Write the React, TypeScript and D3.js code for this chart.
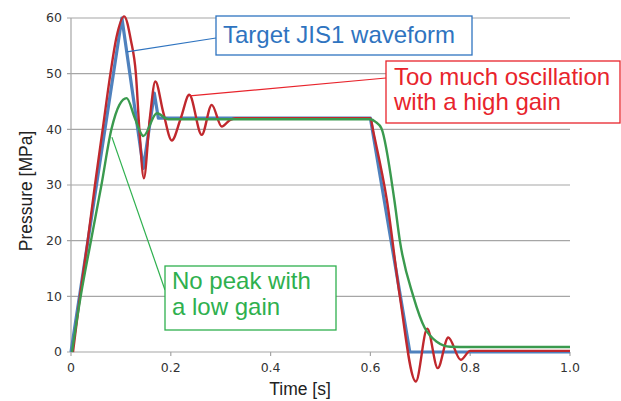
import React from 'react';
import * as d3 from 'd3';

// target JIS1 waveform
const blueT = [0, 0.102, 0.145, 0.167, 0.175, 0.6, 0.679, 1.0];
const blueP = [0, 60, 33, 46.5, 42, 42, 0, 0];

// high gain response
const redT = [0.004, 0.018, 0.0335, 0.048, 0.0635, 0.079, 0.091, 0.1065, 0.12, 0.130, 0.137, 0.146, 0.158, 0.169, 0.185, 0.202, 0.22, 0.237, 0.262, 0.282, 0.302, 0.319, 0.33, 0.6, 0.606, 0.633, 0.659, 0.691, 0.714, 0.735, 0.756, 0.781, 0.8, 1.0];
const redP = [0, 10, 20, 30, 40, 50, 56.5, 60.3, 56, 50, 40, 31.2, 42, 48.6, 43, 38, 42, 46.2, 39, 44.4, 40.5, 41.7, 42, 42, 39.5, 27.3, 10, -5.3, 4.2, -2.9, 2.6, -1.4, 0.2, 0.2];

// low gain response
const greenT = [0.002, 0.0194, 0.04, 0.061, 0.081, 0.097, 0.1115, 0.128, 0.145, 0.172, 0.195, 0.6, 0.611, 0.622, 0.648, 0.659, 0.686, 0.709, 0.733, 0.76, 0.8, 1.0];
const greenP = [0, 10, 20, 30, 40, 44.4, 45.6, 42, 38.8, 42.9, 41.8, 41.8, 41.3, 40.2, 27.3, 20, 10, 4.3, 1.85, 0.95, 0.9, 0.9];

const xTicks = [0, 0.2, 0.4, 0.6, 0.8, 1.0];
const xTickLabels = ['0', '0.2', '0.4', '0.6', '0.8', '1.0'];
const yTicks = [0, 10, 20, 30, 40, 50, 60];

const W = 621;
const H = 401;

const x = d3.scaleLinear().domain([0, 1]).range([71, 570]);
const y = d3.scaleLinear().domain([0, 60]).range([352, 18]);

const toPts = (ts: number[], ps: number[]) => ts.map((t, i) => [t, ps[i]] as [number, number]);

const straight = d3.line<[number, number]>().x(d => x(d[0])).y(d => y(d[1]));
const smooth = d3.line<[number, number]>().x(d => x(d[0])).y(d => y(d[1])).curve(d3.curveMonotoneX);

const annFont = '"Liberation Sans", Arial, sans-serif';

export default function App() {
  return (
    <svg width={W} height={H} style={{ position: 'absolute', left: 0, top: 0, background: '#fff' }}>
      {/* grid */}
      {yTicks.map(v => (
        <line key={'g' + v} x1={67} x2={570} y1={y(v)} y2={y(v)} stroke="#a6a6a6" strokeWidth={1.2} />
      ))}
      <line x1={x(0)} x2={x(0)} y1={y(60)} y2={y(0)} stroke="#a6a6a6" strokeWidth={1.2} />
      {xTicks.map(v => (
        <line key={'t' + v} x1={x(v)} x2={x(v)} y1={y(0)} y2={y(0) + 4} stroke="#a6a6a6" strokeWidth={1.2} />
      ))}
      {yTicks.map(v => (
        <text key={'yl' + v} x={62} y={y(v)} dy="0.35em" textAnchor="end" fontFamily="DejaVu Sans, sans-serif" fontSize={12.5} fill="#333">{v}</text>
      ))}
      {xTicks.map((v, i) => (
        <text key={'xl' + v} x={x(v)} y={368} dy="0.35em" textAnchor="middle" fontFamily="DejaVu Sans, sans-serif" fontSize={12.5} fill="#333">{xTickLabels[i]}</text>
      ))}
      <text x={300} y={395} textAnchor="middle" fontFamily={annFont} fontSize={17.5} fill="#222">Time [s]</text>
      <text transform="translate(32,191) rotate(-90)" textAnchor="middle" fontFamily={annFont} fontSize={17.5} fill="#222">Pressure [MPa]</text>

      {/* series */}
      <path d={straight(toPts(blueT, blueP)) || ''} fill="none" stroke="#4f81bd" strokeWidth={3.2} strokeLinejoin="round" />
      <path d={smooth(toPts(redT, redP)) || ''} fill="none" stroke="#c0282d" strokeWidth={2.4} />
      <path d={smooth(toPts(greenT, greenP)) || ''} fill="none" stroke="#3a9a4e" strokeWidth={2.4} />

      {/* annotations */}
      <line x1={216} y1={38} x2={x(0.112)} y2={y(53.9)} stroke="#2f74c0" strokeWidth={1.2} />
      <rect x={216} y={16} width={256} height={39} fill="#fff" stroke="#2f74c0" strokeWidth={1.3} />
      <text x={223} y={43} fontFamily={annFont} fontSize={24} fill="#2f74c0">Target JIS1 waveform</text>

      <line x1={386} y1={78} x2={x(0.238)} y2={y(46)} stroke="#e8242c" strokeWidth={1.2} />
      <rect x={386} y={61} width={234} height={62} fill="#fff" stroke="#e8242c" strokeWidth={1.3} />
      <text fontFamily={annFont} fontSize={24} fill="#e8242c">
        <tspan x={394} y={85}>Too much oscillation</tspan>
        <tspan x={394} y={110}>with a high gain</tspan>
      </text>

      <line x1={165} y1={290} x2={x(0.082)} y2={y(38.6)} stroke="#2eb04e" strokeWidth={1.2} />
      <rect x={165} y={266} width={171} height={64} fill="#fff" stroke="#2eb04e" strokeWidth={1.3} />
      <text fontFamily={annFont} fontSize={24} fill="#2eb04e">
        <tspan x={172} y={289}>No peak with</tspan>
        <tspan x={172} y={315}>a low gain</tspan>
      </text>
    </svg>
  );
}
